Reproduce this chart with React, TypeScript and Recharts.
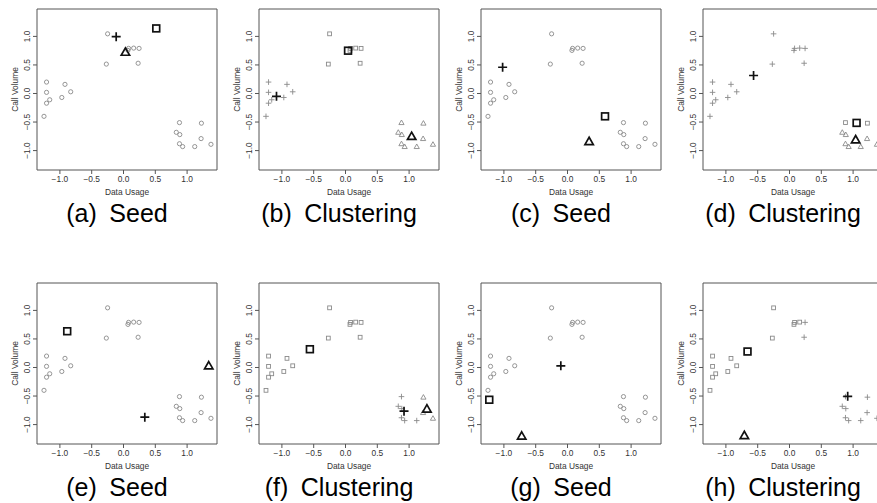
import React from "react"
import { ScatterChart, Scatter, XAxis, YAxis, ReferenceArea } from "recharts"

// customers: data usage vs call volume (same 24 points in every panel)
const usage = [
  -1.21, -1.21, -1.21, -1.16, -0.92, -0.97, -0.83, -1.25,
  -0.25, -0.27, 0.07, 0.08, 0.16, 0.245, 0.23,
  0.88, 0.83, 0.885, 0.88, 0.93, 1.12, 1.225, 1.22, 1.375,
]
const calls = [
  0.2, 0.02, -0.17, -0.11, 0.16, -0.07, 0.03, -0.4,
  1.045, 0.515, 0.755, 0.79, 0.795, 0.79, 0.53,
  -0.51, -0.68, -0.72, -0.88, -0.93, -0.93, -0.52, -0.79, -0.89,
]

const panelTags = ["(a)", "(b)", "(c)", "(d)", "(e)", "(f)", "(g)", "(h)"]
const panelTitles = ["Seed", "Clustering", "Seed", "Clustering", "Seed", "Clustering", "Seed", "Clustering"]

// marker per point in each panel: o circle, + cross, s square, t triangle
const pointMarks = [
  "oooooooooooooooooooooooo",
  "++++++++sssssssttttttttt",
  "oooooooooooooooooooooooo",
  "+++++++++++++++stttttstt",
  "oooooooooooooooooooooooo",
  "sssssssssssssss++++++ttt",
  "oooooooooooooooooooooooo",
  "sssssssssssss+++++++++++",
]

// seeds / cluster centres per panel
const centerMarks = ["+ts", "+st", "+st", "+st", "st+", "s+t", "+st", "s+t"]
const centerX = [
  [-0.115, 0.03, 0.515],
  [-1.085, 0.04, 1.04],
  [-1.02, 0.59, 0.34],
  [-0.565, 1.055, 1.04],
  [-0.885, 1.34, 0.335],
  [-0.56, 0.92, 1.28],
  [-0.105, -1.23, -0.72],
  [-0.66, 0.915, -0.71],
]
const centerY = [
  [0.995, 0.725, 1.14],
  [-0.05, 0.75, -0.75],
  [0.46, -0.4, -0.84],
  [0.315, -0.515, -0.81],
  [0.635, 0.03, -0.87],
  [0.32, -0.765, -0.725],
  [0.03, -0.565, -1.2],
  [0.28, -0.505, -1.19],
]

const axisTicks = [-1, -0.5, 0, 0.5, 1]
const xDomain = [-1.36, 1.47]
const yDomain = [-1.34, 1.48]

const FONT = "'Liberation Sans', Arial, sans-serif"
const fmt = (v: number) => v.toFixed(1).replace("-", "\u2212")

function Marker({ cx, cy, kind, big }: { cx: number; cy: number; kind: string; big: boolean }) {
  if (cx == null || cy == null) return null
  const color = big ? "#111" : "#8a8a8a"
  const sw = big ? 1.7 : 0.9
  if (kind === "o") {
    return <circle cx={cx} cy={cy} r={2.1} fill="none" stroke={color} strokeWidth={sw} />
  }
  if (kind === "s") {
    const h = big ? 3.4 : 1.9
    return <rect x={cx - h} y={cy - h} width={h * 2} height={h * 2} fill="none" stroke={color} strokeWidth={sw} />
  }
  if (kind === "t") {
    const h = big ? 4.2 : 2.6
    const pts = `${cx},${cy - h} ${cx + h},${cy + h * 0.75} ${cx - h},${cy + h * 0.75}`
    return <polygon points={pts} fill="none" stroke={color} strokeWidth={sw} strokeLinejoin="miter" />
  }
  const h = big ? 4.5 : 2.8
  return (
    <path d={`M${cx - h},${cy}H${cx + h}M${cx},${cy - h}V${cy + h}`} stroke={color} strokeWidth={sw} fill="none" />
  )
}

function YTick(props: any) {
  const { x, y, payload } = props
  const cx = x - 4
  return (
    <text
      x={cx}
      y={y}
      transform={`rotate(-90, ${cx}, ${y})`}
      textAnchor="middle"
      dominantBaseline="central"
      fontSize={8.4}
      fontFamily={FONT}
      fill="#333"
    >
      {fmt(payload.value)}
    </text>
  )
}

function YTitle() {
  return (
    <text
      x={18}
      y={89.5}
      transform="rotate(-90, 18, 89.5)"
      textAnchor="middle"
      fontSize={8.4}
      fontFamily={FONT}
      fill="#333"
    >
      Call Volume
    </text>
  )
}

function Panel({ idx }: { idx: number }) {
  const col = idx % 4
  const row = Math.floor(idx / 4)
  const marks = pointMarks[idx]
  const kinds = Array.from(new Set(marks.split("")))
  const groups = kinds.map((k) => ({
    kind: k,
    data: usage
      .map((x, i) => ({ x, y: calls[i], m: marks[i] }))
      .filter((d) => d.m === k),
  }))
  const centers = centerMarks[idx].split("").map((k, j) => ({
    kind: k,
    data: [{ x: centerX[idx][j], y: centerY[idx][j] }],
  }))

  return (
    <div style={{ position: "absolute", left: col * 222, top: row * 274, width: 234, height: 274 }}>
      <ScatterChart width={222} height={200} margin={{ top: 9, right: 5, bottom: 0, left: 0 }}>
        <XAxis
          type="number"
          dataKey="x"
          domain={xDomain}
          ticks={axisTicks}
          allowDataOverflow
          axisLine={false}
          tickSize={4}
          tickLine={{ stroke: "#555" }}
          tickFormatter={fmt}
          tick={{ fontSize: 8.4, fontFamily: FONT, fill: "#333" }}
          height={30}
          label={{ value: "Data Usage", position: "insideBottom", offset: 5, fontSize: 8.4, fontFamily: FONT, fill: "#333" }}
        />
        <YAxis
          type="number"
          dataKey="y"
          domain={yDomain}
          ticks={axisTicks}
          allowDataOverflow
          axisLine={false}
          tickSize={4}
          tickLine={{ stroke: "#555" }}
          tick={<YTick />}
          width={37}
          label={<YTitle />}
        />
        <ReferenceArea
          x1={xDomain[0]}
          x2={xDomain[1]}
          y1={yDomain[0]}
          y2={yDomain[1]}
          fill="none"
          stroke="#555"
          strokeWidth={1}
          fillOpacity={0}
        />
        {groups.map((g) => (
          <Scatter
            key={"p" + g.kind}
            data={g.data}
            isAnimationActive={false}
            shape={(p: any) => <Marker cx={p.cx} cy={p.cy} kind={g.kind} big={false} />}
          />
        ))}
        {centers.map((c, j) => (
          <Scatter
            key={"c" + j}
            data={c.data}
            isAnimationActive={false}
            shape={(p: any) => <Marker cx={p.cx} cy={p.cy} kind={c.kind} big={true} />}
          />
        ))}
      </ScatterChart>
      <div
        style={{
          position: "absolute",
          left: 0,
          top: 201,
          width: 234,
          textAlign: "center",
          fontFamily: FONT,
          fontSize: 25,
          lineHeight: "25px",
          color: "#000",
          whiteSpace: "pre",
        }}
      >
        {panelTags[idx] + "\u2002" + panelTitles[idx]}
      </div>
    </div>
  )
}

export default function App() {
  return (
    <div
      style={{
        position: "absolute",
        left: 0,
        top: 0,
        width: 877,
        height: 503,
        overflow: "hidden",
        background: "#fff",
      }}
    >
      {panelTags.map((_, i) => (
        <Panel key={i} idx={i} />
      ))}
    </div>
  )
}
